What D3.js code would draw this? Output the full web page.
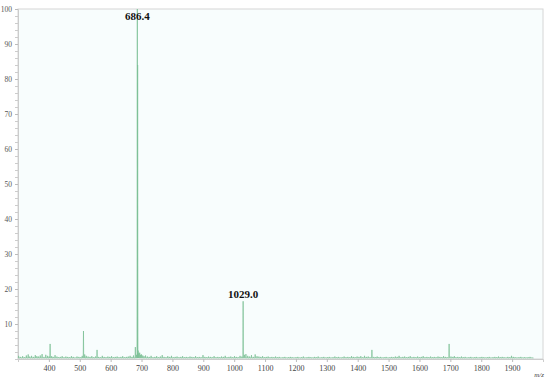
<!DOCTYPE html>
<html>
<head>
<meta charset="utf-8">
<script src="https://cdn.jsdelivr.net/npm/d3@7"></script>
<style>
  body { margin: 0; background: #fff; }
  text { font-family: "Liberation Serif", "Times New Roman", serif; }
</style>
</head>
<body>
<div id="chart"></div>
<script>
// peak positions (m/z) and relative intensities (%)
var mz = [302, 308, 315, 321, 327, 333, 338, 344, 350, 356, 361, 366, 372, 378, 384, 390, 396, 401, 404, 409, 414, 420, 426, 431, 437, 443, 449, 455, 461, 467, 473, 479, 485, 491, 497, 503, 508, 512, 516, 521, 527, 533, 539, 545, 551, 556, 561, 567, 573, 579, 585, 591, 597, 603, 609, 615, 621, 627, 633, 639, 645, 651, 657, 663, 669, 674, 680, 684, 686.4, 687.4, 689, 691, 694, 697, 700, 704, 708, 713, 719, 725, 731, 737, 743, 749, 755, 761, 767, 773, 779, 785, 791, 797, 803, 809, 815, 821, 827, 833, 839, 845, 851, 857, 863, 869, 875, 881, 887, 893, 899, 905, 911, 917, 923, 929, 935, 941, 947, 953, 959, 965, 971, 977, 983, 989, 995, 1001, 1007, 1013, 1019, 1025, 1029.0, 1033, 1038, 1044, 1050, 1056, 1062, 1068, 1074, 1080, 1086, 1092, 1098, 1104, 1110, 1116, 1122, 1128, 1134, 1140, 1146, 1152, 1158, 1164, 1170, 1176, 1182, 1188, 1194, 1200, 1206, 1212, 1218, 1224, 1230, 1236, 1242, 1248, 1254, 1260, 1266, 1272, 1278, 1284, 1290, 1296, 1302, 1308, 1314, 1320, 1326, 1332, 1338, 1344, 1350, 1356, 1362, 1368, 1374, 1380, 1386, 1392, 1398, 1404, 1410, 1416, 1422, 1428, 1434, 1440, 1446, 1452, 1458, 1463, 1468, 1474, 1480, 1486, 1492, 1498, 1504, 1510, 1516, 1522, 1528, 1534, 1540, 1546, 1552, 1558, 1564, 1570, 1576, 1582, 1588, 1594, 1600, 1606, 1612, 1618, 1624, 1630, 1636, 1642, 1648, 1654, 1660, 1666, 1672, 1678, 1684, 1690, 1696, 1702, 1708, 1713, 1718, 1724, 1730, 1736, 1742, 1748, 1754, 1760, 1766, 1772, 1778, 1784, 1790, 1796, 1802, 1808, 1814, 1820, 1826, 1832, 1838, 1844, 1850, 1856, 1862, 1868, 1874, 1880, 1886, 1892, 1898, 1904, 1910, 1916, 1922, 1928, 1934, 1940, 1946, 1952, 1958, 1964, 1970, 1976, 1982, 1988, 1994];
var intensity = [0.9, 0.6, 0.8, 0.5, 1.0, 1.3, 0.7, 0.9, 0.6, 1.1, 0.8, 0.7, 1.0, 1.4, 0.6, 1.2, 0.9, 0.7, 4.3, 0.8, 0.6, 1.1, 0.7, 0.5, 0.6, 0.8, 0.5, 0.7, 0.6, 0.5, 0.8, 0.6, 0.4, 0.7, 0.6, 0.5, 0.9, 8.0, 1.3, 0.9, 0.7, 0.6, 0.8, 0.5, 0.7, 2.6, 0.6, 0.5, 0.9, 0.6, 0.5, 0.7, 0.6, 0.8, 0.5, 0.6, 0.7, 0.5, 0.6, 0.8, 0.5, 0.6, 0.7, 0.9, 0.6, 1.0, 3.4, 1.2, 100, 84, 2.4, 1.6, 1.8, 1.2, 1.3, 1.0, 0.8, 1.0, 0.7, 0.6, 0.9, 0.5, 0.6, 0.8, 0.5, 0.7, 1.1, 0.6, 0.5, 0.8, 0.6, 0.9, 0.5, 0.6, 0.7, 0.5, 0.6, 0.8, 0.5, 0.6, 0.5, 0.7, 0.6, 0.5, 0.8, 0.5, 0.6, 0.5, 1.1, 0.6, 0.5, 0.7, 0.6, 0.5, 0.8, 0.5, 0.6, 0.5, 0.7, 0.6, 0.9, 0.5, 0.6, 0.7, 0.5, 0.8, 0.6, 0.5, 0.9, 0.7, 16.5, 1.2, 1.4, 0.9, 0.7, 1.1, 0.6, 1.3, 0.8, 0.7, 0.6, 0.8, 0.5, 0.6, 0.7, 0.5, 0.6, 0.5, 0.7, 0.5, 0.6, 0.4, 0.5, 0.6, 0.4, 0.5, 0.6, 0.5, 0.4, 0.5, 0.6, 0.4, 0.5, 0.7, 0.4, 0.5, 0.6, 0.5, 0.4, 0.6, 0.5, 0.7, 0.4, 0.5, 0.6, 0.4, 0.5, 0.6, 0.4, 0.5, 0.7, 0.5, 0.6, 0.4, 0.5, 0.7, 0.5, 0.6, 0.5, 0.8, 0.6, 0.5, 0.7, 0.6, 0.8, 0.5, 0.9, 0.6, 0.7, 0.5, 2.6, 0.6, 0.5, 0.7, 0.5, 0.6, 0.4, 0.5, 0.6, 0.4, 0.5, 0.6, 0.5, 0.7, 0.6, 0.9, 0.5, 0.6, 0.7, 0.5, 0.6, 0.8, 0.5, 0.6, 0.5, 0.7, 0.5, 0.6, 0.8, 0.5, 0.6, 0.5, 0.7, 0.5, 0.6, 0.5, 0.7, 0.6, 0.5, 0.8, 0.6, 0.5, 4.3, 0.7, 0.6, 0.8, 0.5, 0.6, 0.5, 0.7, 0.5, 0.6, 0.4, 0.5, 0.6, 0.4, 0.5, 0.6, 0.4, 0.5, 0.6, 0.5, 0.4, 0.5, 0.6, 0.4, 0.5, 0.6, 0.5, 0.7, 0.5, 0.6, 0.5, 0.4, 0.6, 0.5, 0.9, 0.6, 0.5, 0.4, 0.5, 0.6, 0.4, 0.5, 0.4, 0.5, 0.6, 0.4];
var xTicks = [400, 500, 600, 700, 800, 900, 1000, 1100, 1200, 1300, 1400, 1500, 1600, 1700, 1800, 1900];
var yTicks = [10, 20, 30, 40, 50, 60, 70, 80, 90, 100];
var peakLabels = [686.4, 1029.0];

var margin = {top: 9, right: 7, bottom: 23, left: 18};
var width = 550 - margin.left - margin.right,
    height = 382 - margin.top - margin.bottom;

var svg = d3.select("#chart").append("svg")
    .attr("width", width + margin.left + margin.right)
    .attr("height", height + margin.top + margin.bottom)
    .append("g")
    .attr("transform", "translate(" + margin.left + "," + margin.top + ")");

var x = d3.scaleLinear().domain([300, 2000]).range([0, width]);
var y = d3.scaleLinear().domain([0, 100]).range([height, 0]);

// plot frame
svg.append("rect")
    .attr("width", width).attr("height", height)
    .attr("fill", "#f8fdfd")
    .attr("stroke", "#d6d6d6")
    .attr("stroke-width", 1);

// y axis with minor ticks
svg.append("g")
    .attr("class", "yminor")
    .call(d3.axisLeft(y).tickValues(d3.range(0, 101, 2)).tickSize(3).tickFormat(""))
    .call(function(g){ g.select(".domain").attr("stroke", "#ccc"); g.selectAll("line").attr("stroke", "#ccc"); });

svg.append("g")
    .call(d3.axisLeft(y).tickValues(yTicks).tickSize(3).tickPadding(3).tickFormat(d3.format("d")))
    .call(function(g){
        g.select(".domain").remove();
        g.selectAll("line").attr("stroke", "#bbb");
        g.selectAll("text").attr("fill", "#555").style("font-size", "7.5px");
    });

svg.append("g")
    .attr("transform", "translate(0," + height + ")")
    .call(d3.axisBottom(x).tickValues(xTicks).tickSize(3).tickPadding(3).tickFormat(d3.format("d")))
    .call(function(g){
        g.select(".domain").attr("stroke", "#ccc");
        g.selectAll("line").attr("stroke", "#bbb");
        g.selectAll("text").attr("fill", "#444").style("font-size", "8px");
    });

// spectrum as stick profile
var pts = [];
mz.forEach(function(m, i){
    pts.push([m - 0.8, 0.3]);
    pts.push([m, intensity[i]]);
    pts.push([m + 0.8, 0.3]);
});

var line = d3.line()
    .x(function(d){ return x(d[0]); })
    .y(function(d){ return y(d[1]); });

svg.append("path")
    .datum(pts)
    .attr("d", line)
    .attr("fill", "none")
    .attr("stroke", "#7cc096")
    .attr("stroke-width", 0.75);

// peak labels
svg.selectAll(".plabel")
    .data(peakLabels)
    .enter().append("text")
    .attr("class", "plabel")
    .attr("x", function(d){ return x(d); })
    .attr("y", function(d){ return y(intensity[mz.indexOf(d)]) + (d > 1000 ? -3 : 11); })
    .attr("text-anchor", "middle")
    .style("font-size", "11px")
    .style("font-weight", "bold")
    .attr("fill", "#111")
    .text(function(d){ return d.toFixed(1); });

svg.append("text")
    .attr("x", width - 4)
    .attr("y", height + 18)
    .attr("text-anchor", "middle")
    .style("font-size", "7px")
    .style("font-style", "italic")
    .attr("fill", "#444")
    .text("m/z");
</script>
</body>
</html>
